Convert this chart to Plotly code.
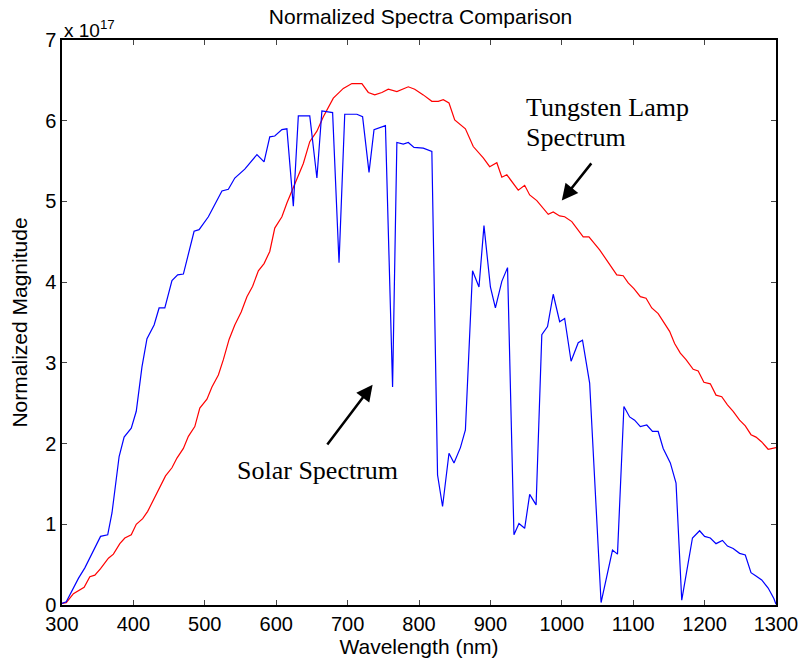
import plotly.graph_objects as go

solar_wl = [300, 306, 323, 332, 354, 364, 370, 380, 387, 397, 404, 412, 419, 429, 436, 444,
            454, 462, 470, 485, 492, 505, 524, 533, 542, 556, 573, 583, 591, 598, 608, 615,
            624, 631, 647, 657, 664, 679, 688, 696, 713, 721, 730, 737, 753, 763, 769, 778,
            785, 793, 806, 818, 826, 833, 842, 849, 858, 865, 875, 884, 891, 900, 907, 916,
            924, 933, 940, 948, 955, 964, 972, 980, 988, 997, 1004, 1013, 1023, 1029, 1039,
            1055, 1071, 1078, 1087, 1095, 1102, 1110, 1119, 1127, 1135, 1142, 1152, 1160,
            1168, 1175, 1183, 1193, 1200, 1208, 1216, 1225, 1232, 1240, 1249, 1257, 1265,
            1272, 1280, 1289, 1297, 1300]
solar_val = [0.02, 0.04, 0.33, 0.46, 0.85, 0.87, 1.14, 1.84, 2.08, 2.19, 2.40, 2.95, 3.30, 3.47, 3.68, 3.68,
             4.02, 4.09, 4.10, 4.63, 4.65, 4.81, 5.13, 5.15, 5.29, 5.40, 5.58, 5.49, 5.80, 5.81, 5.89, 5.90,
             4.94, 6.06, 6.06, 5.29, 6.12, 6.10, 4.24, 6.08, 6.08, 6.05, 5.36, 5.89, 5.94, 2.70, 5.73, 5.71,
             5.73, 5.67, 5.66, 5.62, 1.61, 1.22, 1.88, 1.76, 1.95, 2.17, 4.14, 3.94, 4.70, 3.94, 3.68, 4.01,
             4.18, 0.87, 1.01, 0.95, 1.37, 1.24, 3.35, 3.45, 3.85, 3.51, 3.55, 3.02, 3.25, 3.28, 2.75,
             0.03, 0.68, 0.63, 2.46, 2.33, 2.29, 2.21, 2.23, 2.15, 2.15, 1.94, 1.76, 1.51,
             0.06, 0.43, 0.83, 0.92, 0.85, 0.83, 0.76, 0.80, 0.73, 0.70, 0.64, 0.62, 0.40,
             0.36, 0.31, 0.21, 0.08, 0.01]

lamp_wl = [300, 306, 316, 323, 331, 339, 346, 354, 365, 372, 381, 388, 397, 404, 413, 420,
           428, 436, 445, 454, 461, 470, 477, 486, 493, 503, 510, 519, 526, 534, 542, 551,
           559, 567, 575, 583, 591, 598, 608, 615, 624, 638, 647, 657, 666, 680, 694, 706,
           720, 729, 738, 748, 757, 769, 785, 794, 806, 818, 827, 834, 842, 850, 865, 876,
           890, 899, 909, 916, 923, 939, 948, 955, 965, 981, 988, 997, 1004, 1014, 1030,
           1038, 1053, 1062, 1070, 1077, 1086, 1093, 1101, 1110, 1118, 1126, 1135, 1144,
           1151, 1158, 1166, 1174, 1184, 1191, 1199, 1208, 1216, 1224, 1232, 1240, 1249,
           1257, 1265, 1272, 1280, 1289, 1297, 1300]
lamp_val = [0.02, 0.03, 0.14, 0.18, 0.22, 0.35, 0.37, 0.45, 0.58, 0.63, 0.76, 0.83, 0.87, 1.00, 1.07, 1.16,
            1.30, 1.43, 1.60, 1.70, 1.82, 1.94, 2.09, 2.21, 2.44, 2.55, 2.70, 2.85, 3.04, 3.29, 3.47, 3.63,
            3.82, 3.95, 4.14, 4.23, 4.38, 4.67, 4.81, 4.98, 5.18, 5.47, 5.74, 5.87, 6.05, 6.28, 6.40, 6.46,
            6.46, 6.35, 6.32, 6.35, 6.39, 6.36, 6.42, 6.39, 6.32, 6.24, 6.24, 6.26, 6.22, 6.01, 5.90, 5.68,
            5.54, 5.43, 5.48, 5.30, 5.33, 5.14, 5.20, 5.08, 5.01, 4.84, 4.87, 4.82, 4.81, 4.75, 4.56,
            4.56, 4.40, 4.28, 4.19, 4.09, 4.08, 3.99, 3.92, 3.82, 3.80, 3.68, 3.61, 3.49,
            3.39, 3.24, 3.12, 3.04, 2.92, 2.90, 2.76, 2.74, 2.60, 2.58, 2.48, 2.40, 2.29,
            2.22, 2.11, 2.08, 2.02, 1.93, 1.94, 1.95]

x_ticks = [300, 400, 500, 600, 700, 800, 900, 1000, 1100, 1200, 1300]
y_ticks = [0, 1, 2, 3, 4, 5, 6, 7]

fig = go.Figure()
fig.add_trace(go.Scatter(x=lamp_wl, y=lamp_val, mode="lines",
                         line=dict(color="#ff0000", width=1.2), showlegend=False))
fig.add_trace(go.Scatter(x=solar_wl, y=solar_val, mode="lines",
                         line=dict(color="#0000ff", width=1.2), showlegend=False))

serif = dict(family="Liberation Serif, Times New Roman, serif", size=26, color="black")
fig.add_annotation(x=658, y=1.67, text="Solar Spectrum", showarrow=False, font=serif,
                   xanchor="center", yanchor="middle")
fig.add_annotation(x=947, y=6.16, text="Tungsten Lamp", showarrow=False, font=serif,
                   xanchor="left", yanchor="middle")
fig.add_annotation(x=947, y=5.79, text="Spectrum", showarrow=False, font=serif,
                   xanchor="left", yanchor="middle")
fig.add_annotation(x=735, y=2.73, ax=670, ay=1.97, axref="x", ayref="y", text="",
                   showarrow=True, arrowhead=2, arrowsize=1.3, arrowwidth=2.5, arrowcolor="black")
fig.add_annotation(x=1000, y=5.01, ax=1043, ay=5.49, axref="x", ayref="y", text="",
                   showarrow=True, arrowhead=2, arrowsize=1.3, arrowwidth=2.5, arrowcolor="black")

sans = "Arial, Liberation Sans, sans-serif"
fig.add_annotation(x=0, y=1, xref="paper", yref="paper", xanchor="left", yanchor="bottom",
                   text="x 10<sup>17</sup>", showarrow=False,
                   font=dict(family=sans, size=19, color="black"), yshift=-3)

tick_font = dict(family=sans, size=20, color="black")
label_font = dict(family=sans, size=21, color="black")
fig.update_layout(
    width=801, height=668,
    margin=dict(l=62, r=25, t=40, b=63, autoexpand=False),
    paper_bgcolor="white", plot_bgcolor="white",
    title=dict(text="Normalized Spectra Comparison", x=0.525, xanchor="center", y=0.975,
               yanchor="middle", font=dict(family=sans, size=21, color="black")),
    xaxis=dict(range=[300, 1300], tickvals=x_ticks, ticks="inside", ticklen=5,
               showline=True, linecolor="black", linewidth=1.5, mirror="ticks",
               showgrid=False, zeroline=False, tickfont=tick_font, automargin=False,
               title=dict(text="Wavelength (nm)", font=label_font, standoff=5)),
    yaxis=dict(range=[0, 7], tickvals=y_ticks, ticks="inside", ticklen=5,
               showline=True, linecolor="black", linewidth=1.5, mirror="ticks",
               showgrid=False, zeroline=False, tickfont=tick_font, automargin=False,
               title=dict(text="Normalized Magnitude", font=label_font, standoff=12)),
)

fig.write_html("out.html")
